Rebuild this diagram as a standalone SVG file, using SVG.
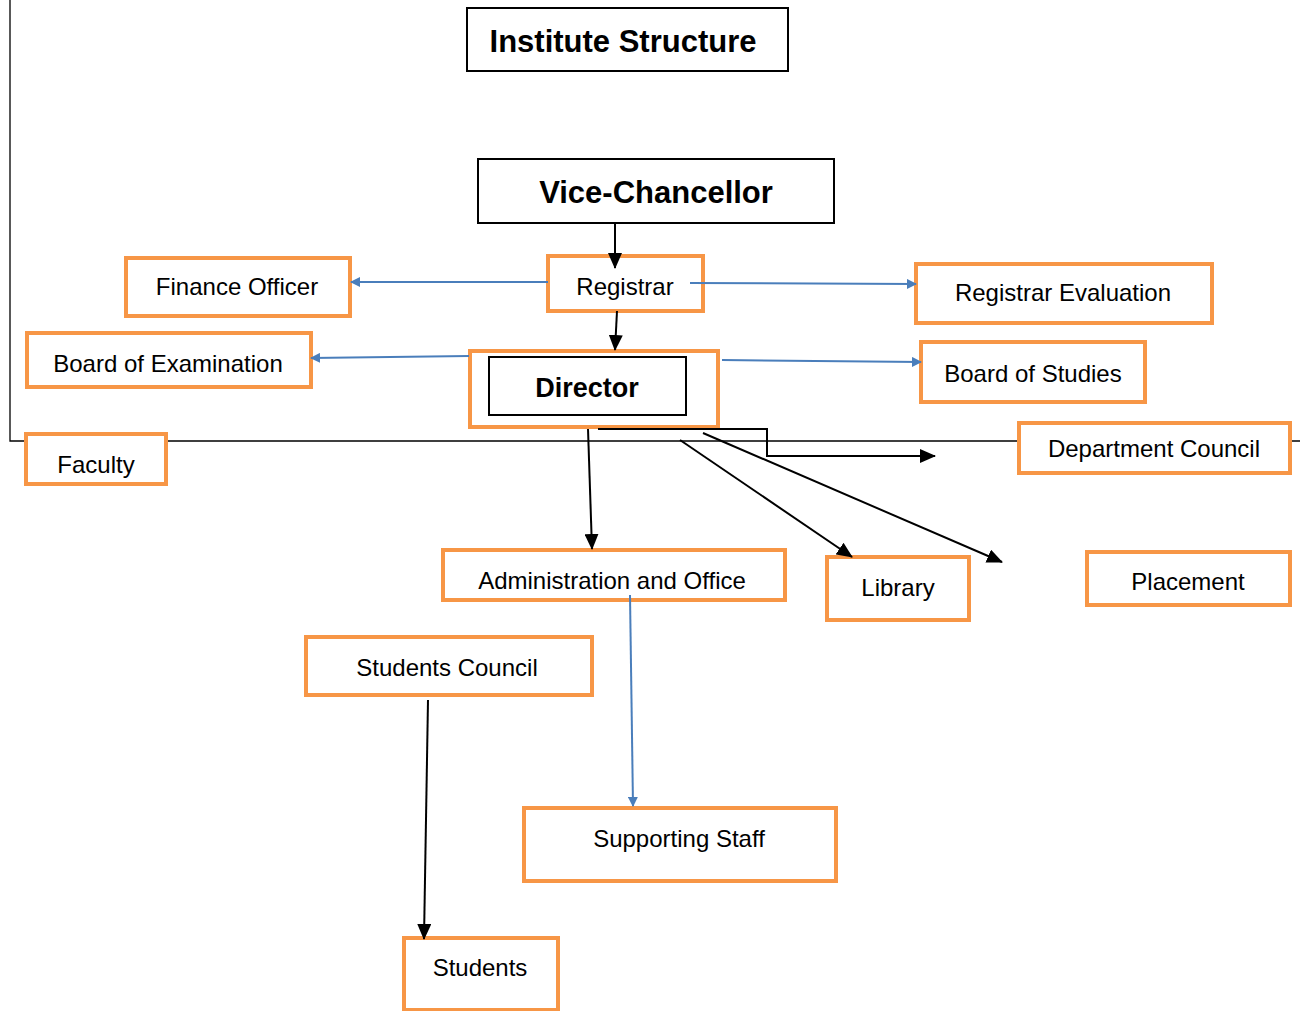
<svg xmlns="http://www.w3.org/2000/svg" width="1300" height="1011" viewBox="0 0 1300 1011">
<style>
.ob{fill:#fff;stroke:#F79646;stroke-width:4}
.bb{fill:#fff;stroke:#000;stroke-width:2}
.t{font-family:"Liberation Sans",Arial,sans-serif;font-size:24px;fill:#000;text-anchor:middle}
.tb{font-family:"Liberation Sans",Arial,sans-serif;font-weight:bold;fill:#000;text-anchor:middle}
.k{stroke:#000;stroke-width:2;fill:none}
.b{stroke:#4A7EBB;stroke-width:2;fill:none}
</style>
<defs>
<marker id="ak" markerUnits="userSpaceOnUse" markerWidth="16" markerHeight="14" refX="15" refY="7" orient="auto"><path d="M0,0 L16,7 L0,14 Z" fill="#000"/></marker>
<marker id="ab" markerUnits="userSpaceOnUse" markerWidth="10" markerHeight="10" refX="9" refY="5" orient="auto"><path d="M0,0 L10,5 L0,10 Z" fill="#4A7EBB"/></marker>
</defs>
<rect width="1300" height="1011" fill="#fff"/>
<path d="M10,0 V441 H1300" stroke="#000" stroke-width="1.3" fill="none"/>
<g id="title"><rect class="bb" x="467" y="8" width="321" height="63"/><text class="tb" x="623" y="52" font-size="31">Institute Structure</text></g>
<g id="vice-chancellor"><rect class="bb" x="478" y="159" width="356" height="64"/><text class="tb" x="656" y="203" font-size="31">Vice-Chancellor</text></g>
<g id="registrar"><rect class="ob" x="548" y="256" width="155" height="55"/><text class="t" x="625" y="295">Registrar</text></g>
<g id="director"><rect class="ob" x="470" y="351" width="248" height="76"/><rect class="bb" x="489" y="357" width="197" height="58"/><text class="tb" x="587" y="397" font-size="27">Director</text></g>
<g id="finance-officer"><rect class="ob" x="126" y="258" width="224" height="58"/><text class="t" x="237" y="295">Finance Officer</text></g>
<g id="board-of-examination"><rect class="ob" x="27" y="333" width="284" height="54"/><text class="t" x="168" y="372">Board of Examination</text></g>
<g id="registrar-evaluation"><rect class="ob" x="916" y="264" width="296" height="59"/><text class="t" x="1063" y="301">Registrar Evaluation</text></g>
<g id="board-of-studies"><rect class="ob" x="921" y="342" width="224" height="60"/><text class="t" x="1033" y="382">Board of Studies</text></g>
<g id="department-council"><rect class="ob" x="1019" y="423" width="271" height="50"/><text class="t" x="1154" y="457">Department Council</text></g>
<g id="faculty"><rect class="ob" x="26" y="434" width="140" height="50"/><text class="t" x="96" y="473">Faculty</text></g>
<g id="administration-and-office"><rect class="ob" x="443" y="550" width="342" height="50"/><text class="t" x="612" y="589">Administration and Office</text></g>
<g id="library"><rect class="ob" x="827" y="557" width="142" height="63"/><text class="t" x="898" y="596">Library</text></g>
<g id="placement"><rect class="ob" x="1087" y="552" width="203" height="53"/><text class="t" x="1188" y="590">Placement</text></g>
<g id="students-council"><rect class="ob" x="306" y="637" width="286" height="58"/><text class="t" x="447" y="676">Students Council</text></g>
<g id="supporting-staff"><rect class="ob" x="524" y="808" width="312" height="73"/><text class="t" x="679" y="847">Supporting Staff</text></g>
<g id="students"><rect class="ob" x="404" y="938" width="154" height="72"/><text class="t" x="480" y="976">Students</text></g>
<g id="connectors">
<line class="k" x1="615" y1="223" x2="615" y2="268" marker-end="url(#ak)"/>
<line class="k" x1="617" y1="311" x2="615" y2="350" marker-end="url(#ak)"/>
<line class="b" x1="548" y1="282" x2="351" y2="282" marker-end="url(#ab)"/>
<line class="b" x1="690" y1="283" x2="916" y2="284" marker-end="url(#ab)"/>
<line class="b" x1="469" y1="356" x2="311" y2="358" marker-end="url(#ab)"/>
<line class="b" x1="722" y1="360" x2="921" y2="362" marker-end="url(#ab)"/>
<path class="k" d="M598,429 H767 V456 H935" marker-end="url(#ak)"/>
<line class="k" x1="588" y1="429" x2="592" y2="549" marker-end="url(#ak)"/>
<line class="k" x1="680" y1="440" x2="852" y2="557" marker-end="url(#ak)"/>
<line class="k" x1="703" y1="433" x2="1002" y2="562" marker-end="url(#ak)"/>
<line class="b" x1="630" y1="595" x2="633" y2="806" marker-end="url(#ab)"/>
<line class="k" x1="428" y1="700" x2="424" y2="939" marker-end="url(#ak)"/>
</g>
</svg>
